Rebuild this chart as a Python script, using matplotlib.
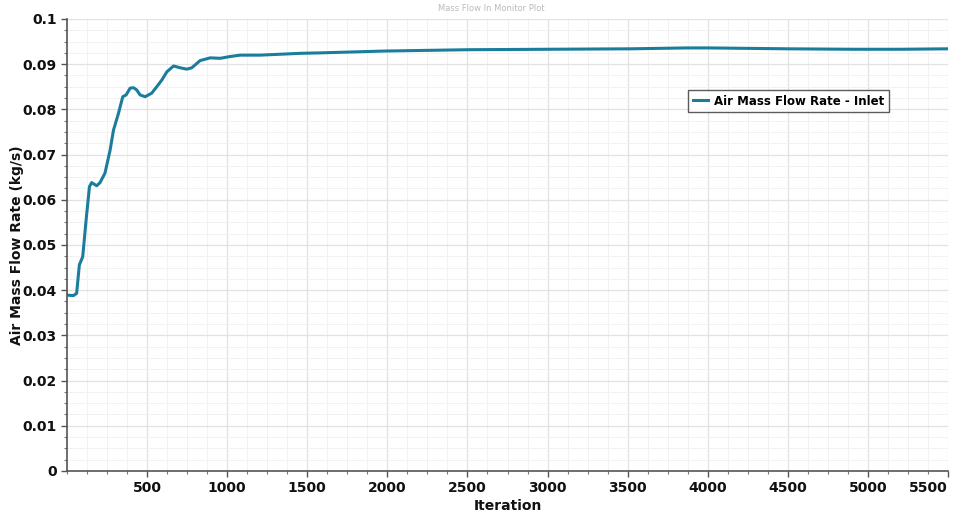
import matplotlib
matplotlib.use("Agg")
import matplotlib.pyplot as plt
from matplotlib.ticker import MultipleLocator, FixedLocator

iterations = [1, 40, 60, 77, 98, 119, 140, 154, 185, 206, 237, 269, 290, 321, 348, 369,
              394, 415, 435, 456, 488, 529, 560, 592, 623, 665, 706, 748, 779, 831, 894,
              956, 1019, 1081, 1206, 1456, 1581, 1975, 2500, 3000, 3519, 3875, 4000,
              4500, 4912, 5200, 5500]
mass_flow = [0.0389, 0.0388, 0.0393, 0.0456, 0.0474, 0.0555, 0.0629, 0.0638, 0.0631,
             0.0638, 0.0659, 0.0710, 0.0754, 0.0791, 0.0828, 0.0832, 0.0847, 0.0848,
             0.0843, 0.0832, 0.0828, 0.0836, 0.0850, 0.0865, 0.0883, 0.0896, 0.0892,
             0.0889, 0.0892, 0.0908, 0.0914, 0.0913, 0.0917, 0.0920, 0.0920, 0.0924,
             0.0925, 0.0929, 0.0932, 0.0933, 0.0934, 0.0936, 0.0936, 0.0934, 0.0933,
             0.0933, 0.0934]

x_ticks = [500, 1000, 1500, 2000, 2500, 3000, 3500, 4000, 4500, 5000, 5500]
y_ticks = [0, 0.01, 0.02, 0.03, 0.04, 0.05, 0.06, 0.07, 0.08, 0.09, 0.1]
y_labels = ["0", "0.01", "0.02", "0.03", "0.04", "0.05", "0.06", "0.07", "0.08", "0.09", "0.1"]

line_color = "#1b7d9c"

fig = plt.figure(figsize=(9.63, 5.13), dpi=100)
ax = fig.add_axes([0.0696, 0.0819, 0.9148, 0.8811])

ax.plot(iterations, mass_flow, color=line_color, lw=2.2, label="Air Mass Flow Rate - Inlet")

ax.set_xlim(0, 5500)
ax.set_ylim(0, 0.1)
ax.xaxis.set_major_locator(FixedLocator(x_ticks))
ax.xaxis.set_minor_locator(MultipleLocator(125))
ax.yaxis.set_major_locator(FixedLocator(y_ticks))
ax.set_yticklabels(y_labels)
ax.yaxis.set_minor_locator(MultipleLocator(0.0025))

ax.grid(which="major", color="#e2e2e2", lw=0.9)
ax.grid(which="minor", color="#f2f2f2", lw=0.7)
ax.set_axisbelow(True)

for s in ["top", "right"]:
    ax.spines[s].set_visible(False)
for s in ["left", "bottom"]:
    ax.spines[s].set_color("#555555")
    ax.spines[s].set_linewidth(1.2)

ax.tick_params(which="major", direction="out", length=4, width=1, color="#555555",
               labelsize=10)
ax.tick_params(which="minor", direction="out", length=2.5, width=0.8, color="#777777")
for lab in ax.get_xticklabels() + ax.get_yticklabels():
    lab.set_fontweight("bold")
    lab.set_color("#111111")
ax.get_xticklabels()[-1].set_horizontalalignment("right")

ax.set_xlabel("Iteration", fontsize=10, fontweight="bold", color="#111111")
ax.set_ylabel("Air Mass Flow Rate (kg/s)", fontsize=10, fontweight="bold", color="#111111")
ax.xaxis.set_label_coords(0.5, -0.062)
ax.yaxis.set_label_coords(-0.049, 0.5)

fig.text(0.51, 0.993, "Mass Flow In Monitor Plot", ha="center", va="top",
         fontsize=6, color="#bbbbbb")

leg = ax.legend(loc="center", bbox_to_anchor=(0.819, 0.803), bbox_transform=fig.transFigure,
                frameon=True, fancybox=False, handlelength=1.3,
                handletextpad=0.5, borderpad=0.4, prop={"weight": "bold", "size": 8.5})
leg.get_frame().set_edgecolor("#333333")
leg.get_frame().set_linewidth(1.0)

fig.savefig("out.png", dpi=100)
